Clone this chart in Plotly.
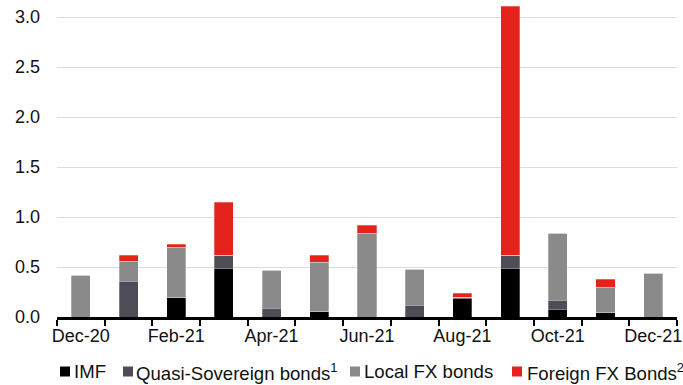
import plotly.graph_objects as go

months = ["Dec-20", "Jan-21", "Feb-21", "Mar-21", "Apr-21", "May-21", "Jun-21",
          "Jul-21", "Aug-21", "Sep-21", "Oct-21", "Nov-21", "Dec-21"]
tick_labels = ["Dec-20", "", "Feb-21", "", "Apr-21", "", "Jun-21",
               "", "Aug-21", "", "Oct-21", "", "Dec-21"]
y_ticks = [0, 0.5, 1.0, 1.5, 2.0, 2.5, 3.0]

imf = [0, 0, 0.20, 0.49, 0, 0.06, 0, 0, 0.19, 0.49, 0.08, 0.05, 0]
quasi = [0, 0.36, 0, 0.13, 0.09, 0, 0, 0.12, 0.01, 0.13, 0.09, 0, 0]
local_fx = [0.42, 0.20, 0.50, 0, 0.38, 0.49, 0.84, 0.36, 0, 0, 0.67, 0.25, 0.44]
foreign_fx = [0, 0.06, 0.03, 0.53, 0, 0.07, 0.08, 0, 0.04, 2.49, 0, 0.08, 0]

names = ["IMF", "Quasi-Sovereign bonds<sup>1</sup>", "Local FX bonds",
         "Foreign FX Bonds<sup>2</sup>"]
colors = ["#000000", "#4d4c57", "#8a8a8a", "#e3231c"]
values = [imf, quasi, local_fx, foreign_fx]

W, H = 683, 385
ML, MR, MT, MB = 57, 6, 5, 68
PW, PH = W - ML - MR, H - MT - MB


def px_x(p):
    return (p - ML) / PW


def px_y(p):
    return (H - MB - p) / PH


fig = go.Figure()
for name, vals, col in zip(names, values, colors):
    fig.add_trace(go.Bar(
        x=months, y=vals, name=name, showlegend=False,
        marker=dict(color=col, line=dict(color="rgba(255,255,255,0.35)", width=0.8)),
    ))

# custom legend (square + label), laid out like the reference
legend_sq_left = [60, 123, 350, 512]
legend_txt_left = [74, 136, 364, 527]
shapes = []
annotations = []
for name, col, sq, tx in zip(names, colors, legend_sq_left, legend_txt_left):
    shapes.append(dict(type="rect", xref="paper", yref="paper",
                       x0=px_x(sq), x1=px_x(sq + 10), y0=px_y(376.5), y1=px_y(366.5),
                       fillcolor=col, line=dict(width=0), layer="above"))
    annotations.append(dict(text=name, xref="paper", yref="paper",
                            x=px_x(tx), y=px_y(371.5), xanchor="left", yanchor="middle",
                            showarrow=False, font=dict(size=18.6, color="#111111"),
                            xshift=-2))

fig.update_layout(
    barmode="stack",
    bargap=0.6,
    width=W, height=H,
    margin=dict(l=ML, r=MR, t=MT, b=MB, autoexpand=False),
    plot_bgcolor="white", paper_bgcolor="white",
    font=dict(family="Liberation Sans, Arial, sans-serif", size=18, color="#111111"),
    showlegend=False,
    shapes=shapes,
    annotations=annotations,
    xaxis=dict(
        type="category",
        tickmode="array", tickvals=months, ticktext=tick_labels,
        tickson="boundaries", tickangle=0,
        ticks="outside", ticklen=6, tickwidth=1.5, tickcolor="#000000",
        showline=True, linecolor="#000000", linewidth=3,
        showgrid=False, automargin=False,
        tickfont=dict(size=18),
    ),
    yaxis=dict(
        range=[0, 3.12],
        tickmode="array", tickvals=y_ticks,
        tickformat=".1f",
        showgrid=True, gridcolor="#dcdcdc", gridwidth=1.3,
        zeroline=False, showline=False, ticks="",
        ticklabelstandoff=16, automargin=False,
        tickfont=dict(size=18),
    ),
)

fig.write_html("out.html")
